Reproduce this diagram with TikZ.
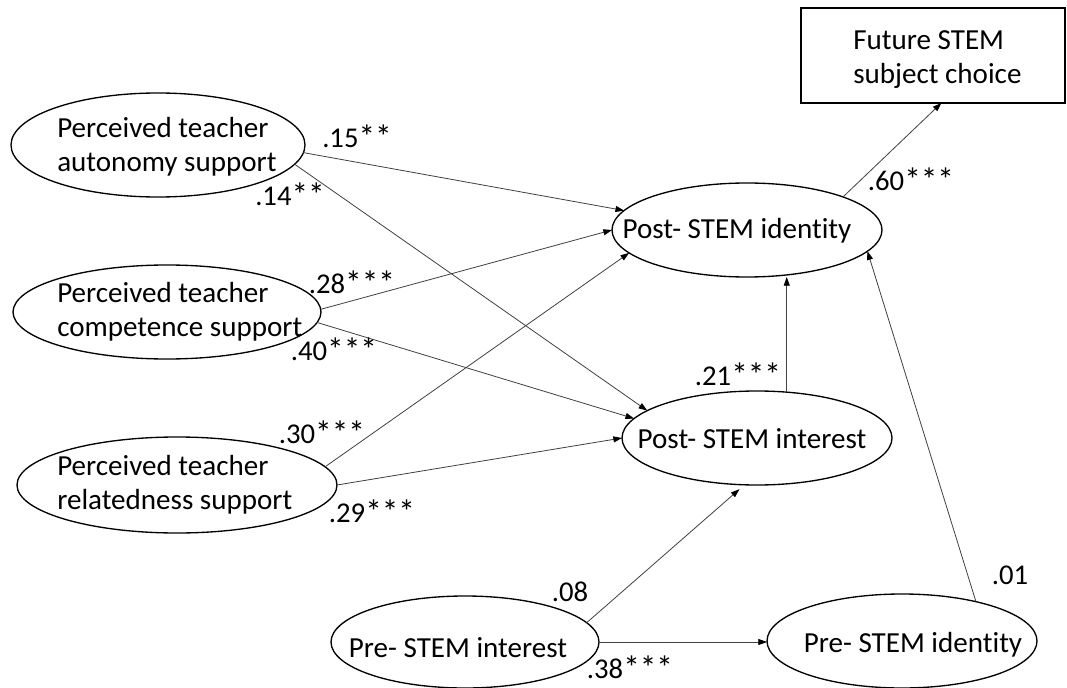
\documentclass[tikz,border=0pt]{standalone}
\usepackage{fontspec}
\setmainfont{Carlito}[Ligatures={NoCommon}]
\usetikzlibrary{shapes.geometric,arrows.meta}
\newcommand{\sigstars}[1]{\raisebox{-0.06em}{\fontsize{25}{25}\selectfont #1}}
\begin{document}
\begin{tikzpicture}[x=0.75pt,y=-0.75pt,
  ell/.style={ellipse,draw,line width=1pt,inner sep=0pt,outer sep=0pt},
  box/.style={rectangle,draw,line width=1pt,inner sep=0pt,outer sep=0pt},
  txt/.style={font=\fontsize{21.8}{25.5}\selectfont,inner sep=0pt,align=left},
  lab/.style={font=\fontsize{21.5}{25}\selectfont,inner sep=0pt},
  arr/.style={draw=black!75,line width=0.6pt,-{Triangle[length=6.5pt,width=4.5pt,color=black]}}]
\useasboundingbox (0,0) rectangle (1067,688);

% boxes and ellipses
\node[box,minimum width=198pt,minimum height=71.25pt] (fut) at (933,55.5) {};
\node[ell,minimum width=220.5pt,minimum height=78pt] (a1) at (158,145) {};
\node[ell,minimum width=231pt,minimum height=70.5pt] (a2) at (167,312) {};
\node[ell,minimum width=240pt,minimum height=72pt] (a3) at (177,485) {};
\node[ell,minimum width=202.5pt,minimum height=70.5pt] (pid) at (747,230) {};
\node[ell,minimum width=202.5pt,minimum height=70.5pt] (pin) at (757,438) {};
\node[ell,minimum width=201pt,minimum height=69pt] (pri) at (465,642) {};
\node[ell,minimum width=202.5pt,minimum height=70.5pt] (prd) at (902,641) {};

% texts
\node[txt,anchor=west] (futt) at (853,60) {Future STEM\\subject choice};
\node[txt,anchor=west] (a1t) at (57,147) {Perceived teacher\\autonomy support};
\node[txt,anchor=west] (a2t) at (57,312) {Perceived teacher\\competence support};
\node[txt,anchor=west] (a3t) at (57,485) {Perceived teacher\\relatedness support};
\node[txt] (pidt) at (737,231) {Post- STEM identity};
\node[txt] (pint) at (752,439) {Post- STEM interest};
\node[txt] (prit) at (458,648) {Pre- STEM interest};
\node[txt] (prdt) at (913,645) {Pre- STEM identity};

% connectors
\draw[arr] (a1.-3.5) -- (pid.171.2);
\draw[arr] (a1.-8) -- (pin.166.7);
\draw[arr] (a2.1.85) -- (pid.180);
\draw[arr] (a2.-4.86) -- (pin.171);
\draw[arr] (a3.7.7) -- (pid.-169.7);
\draw[arr] (a3.-0.7) -- (pin.180);
\draw[arr] (pin.57.8) -- (pin.57.8 |- pid.south);
\draw[arr] (pid.19.65) -- (fut.-80.4);
\draw[arr,shorten >=5pt] (pri.9.5) -- (pin.-105.5);
\draw[arr] (pri.east) -- (prd.west |- pri.east);
\draw[arr] (prd.28) -- (pid.-10.8);

% labels
\node[lab] (l15) at (357,137) {.15\sigstars{**}};
\node[lab] (l14) at (290,195) {.14\sigstars{**}};
\node[lab] (l28) at (352,283) {.28\sigstars{***}};
\node[lab] (l40) at (334,350) {.40\sigstars{***}};
\node[lab] (l30) at (322,433) {.30\sigstars{***}};
\node[lab] (l29) at (372,512) {.29\sigstars{***}};
\node[lab] (l21) at (738,375) {.21\sigstars{***}};
\node[lab] (l60) at (911,180) {.60\sigstars{***}};
\node[lab] (l08) at (570,592) {.08};
\node[lab] (l38) at (630,668) {.38\sigstars{***}};
\node[lab] (l01) at (1010,575) {.01};
\end{tikzpicture}
\end{document}
